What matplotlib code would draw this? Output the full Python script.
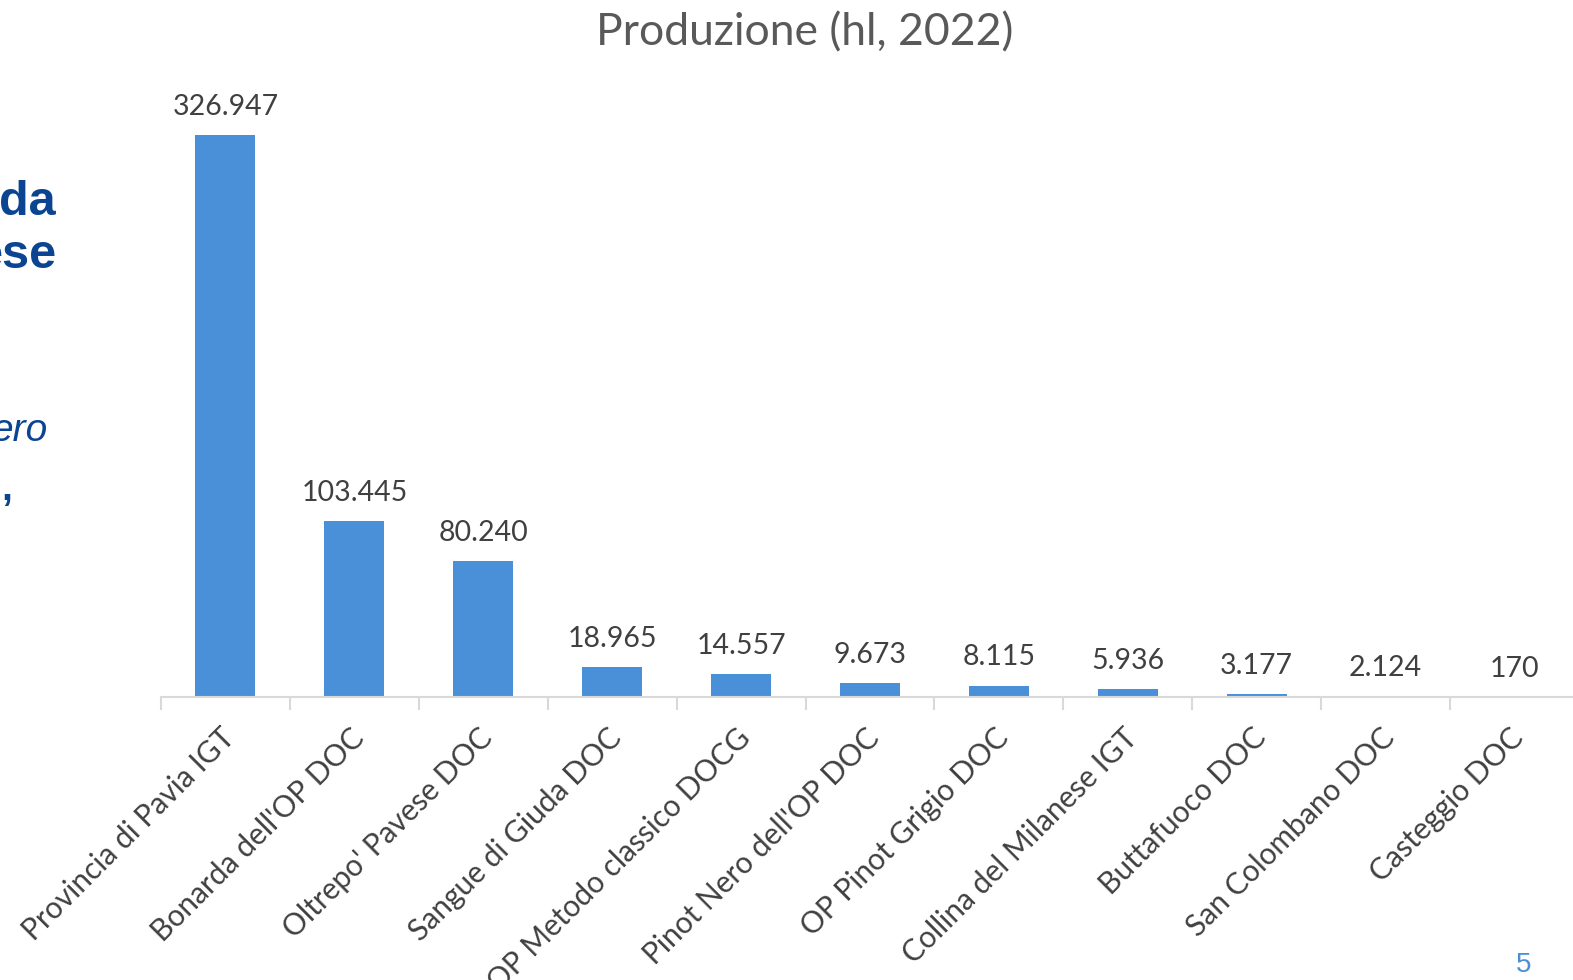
import matplotlib
matplotlib.use("Agg")
import matplotlib.pyplot as plt
import matplotlib.transforms as mtransforms
import numpy as np

categories = [
    "Provincia di Pavia IGT",
    "Bonarda dell'OP DOC",
    "Oltrepo' Pavese DOC",
    "Sangue di Giuda DOC",
    "OP Metodo classico DOCG",
    "Pinot Nero dell'OP DOC",
    "OP Pinot Grigio DOC",
    "Collina del Milanese IGT",
    "Buttafuoco DOC",
    "San Colombano DOC",
    "Casteggio DOC",
]
values = [326947, 103445, 80240, 18965, 14557, 9673, 8115, 5936, 3177, 2124, 170]
value_labels = ["326.947", "103.445", "80.240", "18.965", "14.557", "9.673",
                "8.115", "5.936", "3.177", "2.124", "170"]

plt.rcParams['font.family'] = ['Lato', 'DejaVu Sans']

W, H = 1573, 980
fig = plt.figure(figsize=(W / 100, H / 100), dpi=100)

# plot area (pixels measured on the reference); right side runs off the page
left_px, right_px = 161, 161 + 11 * 128.9
top_px, bottom_px = 135, 697
ax = fig.add_axes([left_px / W, 1 - bottom_px / H,
                   (right_px - left_px) / W, (bottom_px - top_px) / H])

bar_color = "#4A90D9"
x = np.arange(len(categories))
ax.bar(x, values, width=0.465, color=bar_color, zorder=2)

ax.set_xlim(-0.5, len(categories) - 0.5)
ax.set_ylim(1500, values[0])

for xi, lab, v in zip(x, value_labels, values):
    ax.annotate(lab, (xi, max(v, 1500)), xytext=(0, 11), textcoords="offset points",
                ha="center", va="bottom", fontsize=20.5, color="#404040",
                annotation_clip=False)

for s in ["top", "right", "left"]:
    ax.spines[s].set_visible(False)
ax.spines["bottom"].set_color("#D9D9D9")
ax.spines["bottom"].set_linewidth(1.5)
ax.set_yticks([])

ax.set_xticks(x)
ax.set_xticklabels(categories, rotation=45, ha="right", va="center",
                   rotation_mode="anchor", fontsize=21.5, color="#404040")
ax.tick_params(axis="x", which="major", length=0, pad=26)
ax.set_xticks(np.arange(-0.5, len(categories)), minor=True)
ax.tick_params(axis="x", which="minor", length=9, width=1.5, color="#D9D9D9")

# nudge labels a few pixels right
shift = mtransforms.ScaledTranslation(5 / 100, 0, fig.dpi_scale_trans)
for lbl in ax.get_xticklabels():
    lbl.set_transform(lbl.get_transform() + shift)

fig.text(805 / W, 1 - 33 / H, "Produzione (hl, 2022)", ha="center", va="center",
         fontsize=32, color="#595959")

# slide text cut off at the left edge
blue = "#0B4592"
fig.text(56 / W, 1 - 215 / H, "da", ha="right", va="baseline", fontsize=35,
         fontweight="bold", color=blue, family="Liberation Sans")
fig.text(56 / W, 1 - 268 / H, "ese", ha="right", va="baseline", fontsize=35,
         fontweight="bold", color=blue, family="Liberation Sans")
fig.text(48 / W, 1 - 441 / H, "ero", ha="right", va="baseline", fontsize=28,
         style="italic", color=blue, family="Liberation Sans")
fig.text(12 / W, 1 - 500 / H, ",", ha="right", va="baseline", fontsize=28,
         fontweight="bold", color=blue, family="Liberation Sans")

fig.text(1524 / W, 1 - 965 / H, "5", ha="center", va="center", fontsize=20,
         color="#4A90D9", family="Liberation Sans")

fig.savefig("out.png", dpi=100)
